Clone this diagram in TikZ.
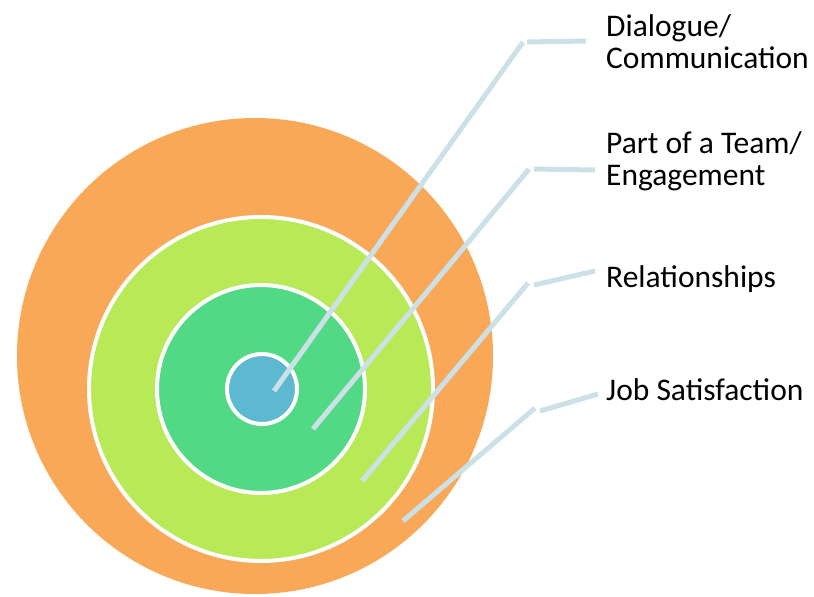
\documentclass[tikz,border=0pt]{standalone}
\usepackage{fontspec}
\setmainfont{Carlito}
\definecolor{ringorange}{HTML}{F9A857}
\definecolor{ringlime}{HTML}{B8EA58}
\definecolor{ringgreen}{HTML}{52D986}
\definecolor{ringblue}{HTML}{5CB9D1}
\definecolor{leadblue}{HTML}{CCE0E8}
\tikzset{
  ring/.style={circle, draw=white, line width=4pt, inner sep=0pt},
  leader/.style={leadblue, line width=5pt},
  lab/.style={anchor=base west, inner sep=0pt, align=left, font=\fontsize{31.5}{32}\selectfont}
}
\begin{document}
\begin{tikzpicture}[x=1pt, y=-1pt]
            \useasboundingbox (0,0) rectangle (814,597);

            % target rings
            \node[ring, draw=none, fill=ringorange, minimum size=476pt] (job) at (255,356) {};
            \node[ring, fill=ringlime, minimum size=344pt] (rel) at (261,389) {};
            \node[ring, fill=ringgreen, minimum size=208pt] (team) at (261,389) {};
            \node[ring, fill=ringblue, minimum size=70pt] (dia) at (262,389) {};

            % labels (base = last line)
            \node[lab] (diaLab) at (606,68) {Dialogue/\\Communication};
            \node[lab] (teamLab) at (606,185) {Part of a Team/\\Engagement};
            \node[lab] (relLab) at (606,287) {Relationships};
            \node[lab] (jobLab) at (606,400) {Job Satisfaction};

            % leader ends and bends
            \coordinate (diaEnd) at (274,391);
            \coordinate (diaBend) at (523,42);
            \coordinate (diaTip) at (586,41);
            \coordinate (teamEnd) at (313,429);
            \coordinate (teamBend) at (529,169);
            \coordinate (teamTip) at (595,170);
            \coordinate (relEnd) at (362,481);
            \coordinate (relBend) at (528,283);
            \coordinate (relTip) at (595,271);
            \coordinate (jobEnd) at (403,521);
            \coordinate (jobBend) at (535,408);
            \coordinate (jobTip) at (598,394);

            \draw[leader] (diaEnd) -- (diaBend);
            \draw[leader] ([xshift=4pt]diaBend) -- (diaTip);
            \draw[leader] (teamEnd) -- (teamBend);
            \draw[leader] ([xshift=5pt]teamBend) -- (teamTip);
            \draw[leader] (relEnd) -- (relBend);
            \draw[leader] ([xshift=6pt,yshift=-2pt]relBend) -- (relTip);
            \draw[leader] (jobEnd) -- (jobBend);
            \draw[leader] ([xshift=5pt,yshift=-3pt]jobBend) -- (jobTip);
\end{tikzpicture}
\end{document}
